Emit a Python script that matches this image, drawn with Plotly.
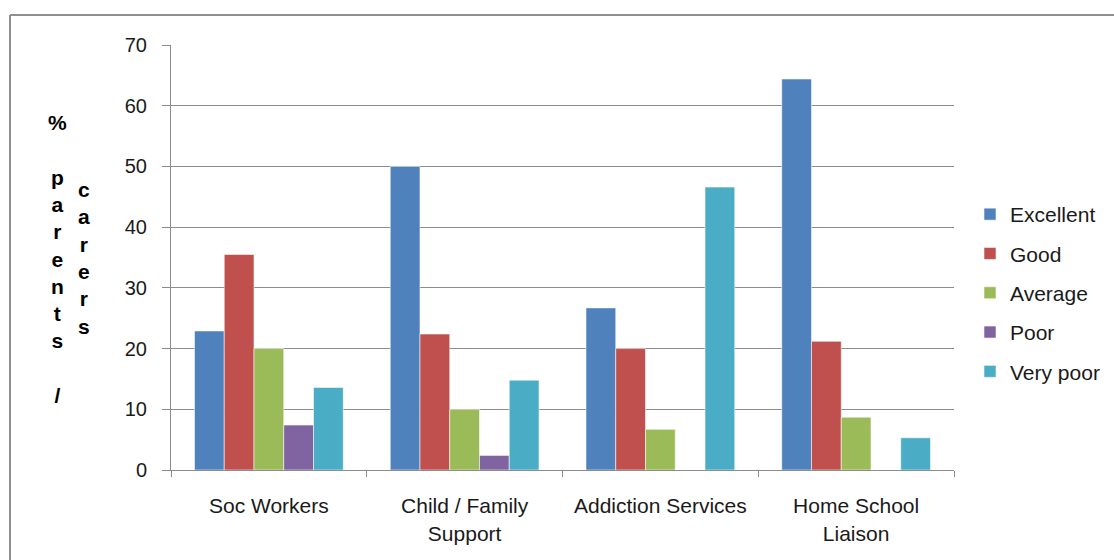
import plotly.graph_objects as go

# Rating of services by parents / carers (% of respondents)
services = ["Soc Workers", "Child / Family<br>Support", "Addiction Services", "Home School<br>Liaison"]
ratings = ["Excellent", "Good", "Average", "Poor", "Very poor"]

excellent = [22.9, 50.0, 26.7, 64.4]
good = [35.5, 22.4, 20.0, 21.2]
average = [20.0, 10.0, 6.7, 8.7]
poor = [7.4, 2.4, 0.0, 0.0]
very_poor = [13.6, 14.8, 46.6, 5.3]

y_ticks = [0, 10, 20, 30, 40, 50, 60, 70]

series = [excellent, good, average, poor, very_poor]
colors = ["#4F81BD", "#C0504D", "#9BBB59", "#8064A2", "#4BACC6"]

W, H = 1114, 560
L, R, T, B = 171, 160, 45, 90
FONT = "Liberation Sans, Arial, sans-serif"
GRID = "#8c8c8c"

fig = go.Figure()
for i, (name, vals) in enumerate(zip(ratings, series)):
    fig.add_trace(go.Bar(
        x=services, y=vals, name=name,
        marker=dict(color=colors[i], line=dict(color="rgba(255,255,255,0.55)", width=1)),
        legendgroup=name,
    ))

pw = W - L - R
ph = H - T - B

def px_x(p):
    return (p - L) / pw

def px_y(p):
    return (H - B - p) / ph

shapes = [
    # outer chart frame (left and top edges)
    dict(type="line", xref="paper", yref="paper", x0=px_x(10), x1=px_x(10),
         y0=px_y(15), y1=px_y(H + 20), line=dict(color="#8f8f8f", width=2)),
    dict(type="line", xref="paper", yref="paper", x0=px_x(10), x1=px_x(W + 20),
         y0=px_y(15), y1=px_y(15), line=dict(color="#8f8f8f", width=2)),
]

col1 = "%<br><br>p<br>a<br>r<br>e<br>n<br>t<br>s<br><br>/"
col2 = "c<br>a<br>r<br>e<br>r<br>s"
annotations = [
    dict(text=col1, xref="paper", yref="paper", x=px_x(57), y=px_y(109),
         xanchor="center", yanchor="top", showarrow=False, align="center",
         font=dict(family=FONT, size=21, color="#000000", weight="bold")),
    dict(text=col2, xref="paper", yref="paper", x=px_x(84), y=px_y(176),
         xanchor="center", yanchor="top", showarrow=False, align="center",
         font=dict(family=FONT, size=21, color="#000000", weight="bold")),
]

fig.update_layout(
    width=W, height=H,
    margin=dict(l=L, r=R, t=T, b=B, pad=0, autoexpand=False),
    paper_bgcolor="white", plot_bgcolor="white",
    barmode="group", bargap=0.24, bargroupgap=0,
    font=dict(family=FONT, size=21, color="#1a1a1a"),
    showlegend=True,
    legend=dict(x=px_x(970), y=px_y(194), xanchor="left", yanchor="top",
                font=dict(family=FONT, size=21, color="#1a1a1a"),
                tracegroupgap=9, traceorder="grouped", itemwidth=30,
                bgcolor="rgba(0,0,0,0)"),
    shapes=shapes,
    annotations=annotations,
)

fig.update_yaxes(
    range=[0, 70], tickvals=y_ticks, ticktext=[str(v) for v in y_ticks],
    showgrid=True, gridcolor=GRID, gridwidth=1,
    showline=True, linecolor=GRID, linewidth=1,
    ticks="outside", ticklen=8, tickcolor=GRID,
    ticklabelstandoff=11, zeroline=False,
    tickfont=dict(family=FONT, size=20, color="#1a1a1a"),
)
fig.update_xaxes(
    showline=True, linecolor=GRID, linewidth=1,
    ticks="outside", ticklen=6, tickcolor=GRID, tickson="boundaries",
    ticklabelstandoff=17, showgrid=False,
    tickfont=dict(family=FONT, size=21, color="#1a1a1a"),
)

fig.write_html("out.html")
